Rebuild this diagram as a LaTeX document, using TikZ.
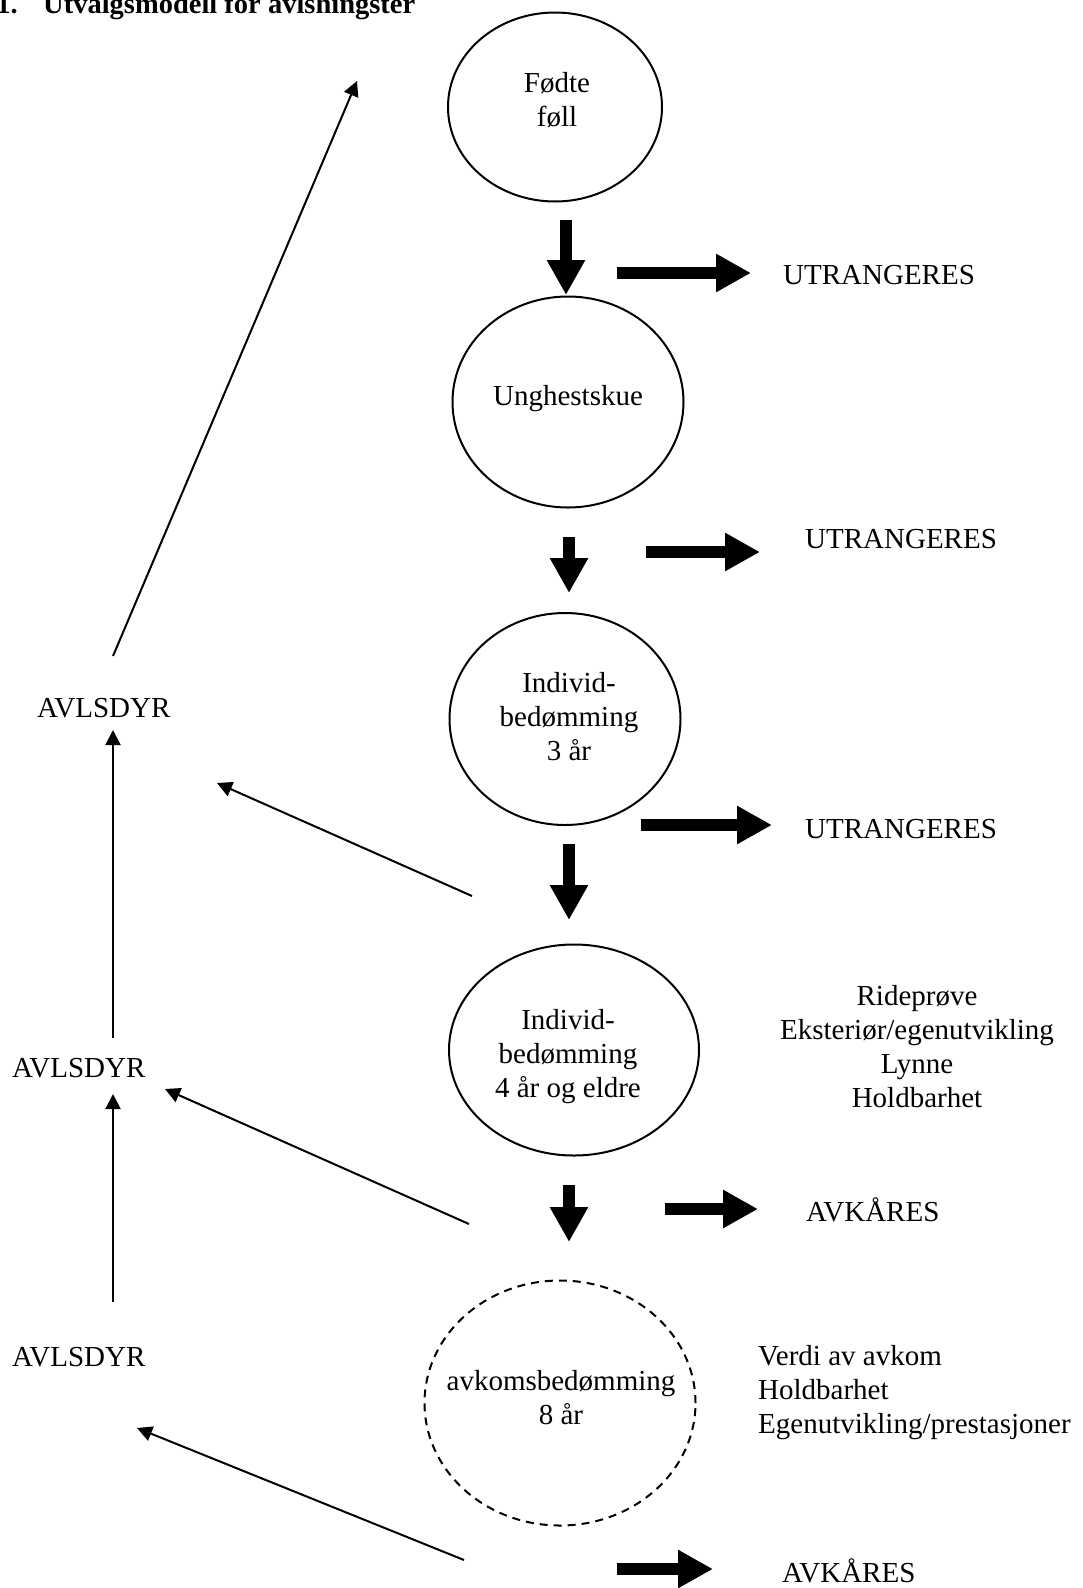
\documentclass[tikz,border=0pt]{standalone}
\usepackage{fontspec}
\setmainfont{Liberation Serif}
\usetikzlibrary{shapes.geometric,arrows.meta}
\tikzset{
  oval/.style={draw, ellipse, line width=2pt, inner sep=0pt},
  lbl/.style={font=\fontsize{29}{34}\selectfont, inner sep=0pt},
  blockarrow/.style={line width=12pt, -{Triangle[width=36pt,length=35pt]}},
  thinarrow/.style={line width=2pt, -{Triangle[width=15pt,length=15pt]}},
}
\begin{document}
\begin{tikzpicture}[x=1pt,y=-1pt]
\useasboundingbox (0,0) rectangle (1082,1588);
\clip (0,0) rectangle (1082,1588);
% title
\node[font=\fontsize{28.5}{34}\selectfont\bfseries, inner sep=0pt, anchor=base east] (t1) at (18,13) {1.};
\node[font=\fontsize{28.5}{34}\selectfont\bfseries, inner sep=0pt, anchor=base west] (t2) at (43,13) {Utvalgsmodell for avlshingster};
% ellipses
\node[oval, minimum width=214pt, minimum height=189pt] (e1) at (555,107) {};
\node[oval, minimum width=231pt, minimum height=211pt] (e2) at (568,402) {};
\node[oval, minimum width=231pt, minimum height=212pt] (e3) at (565,719) {};
\node[oval, minimum width=250pt, minimum height=211pt] (e4) at (574,1050) {};
\node[oval, dashed, dash pattern=on 8pt off 6pt, minimum width=271pt, minimum height=245pt] (e5) at (560,1403) {};
% ellipse texts
\node[lbl, align=center, anchor=north] (e1t) at (557,72) {Fødte\\føll};
\node[lbl, anchor=base] (e2t) at (568,405) {Unghestskue};
\node[lbl, align=center, anchor=north] (e3t) at (569,672) {Individ-\\bedømming\\3 år};
\node[lbl, align=center, anchor=north] (e4t) at (568,1009) {Individ-\\bedømming\\4 år og eldre};
\node[lbl, align=center, anchor=north] (e5t) at (561,1370) {avkomsbedømming\\8 år};
% side labels
\node[lbl, anchor=base west] (u1) at (783,284) {UTRANGERES};
\node[lbl, anchor=base west] (u2) at (805,548) {UTRANGERES};
\node[lbl, anchor=base west] (u3) at (805,838) {UTRANGERES};
\node[lbl, anchor=base west] (k1) at (806,1221) {AVKÅRES};
\node[lbl, anchor=base west] (k2) at (782,1582) {AVKÅRES};
\node[lbl, anchor=base west] (av1) at (37,717) {AVLSDYR};
\node[lbl, anchor=base west] (av2) at (12,1077) {AVLSDYR};
\node[lbl, anchor=base west] (av3) at (12,1366) {AVLSDYR};
\node[lbl, align=center, anchor=north] (crit1) at (917,985) {Rideprøve\\Eksteriør/egenutvikling\\Lynne\\Holdbarhet};
\node[lbl, align=left, anchor=north west] (crit2) at (758,1345) {Verdi av avkom\\Holdbarhet\\Egenutvikling/prestasjoner};
% block arrow endpoints
\coordinate (d1a) at (566,220); \coordinate (d1b) at (566,295);
\coordinate (d2a) at (569,537); \coordinate (d2b) at (569,593);
\coordinate (d3a) at (569,844); \coordinate (d3b) at (569,920);
\coordinate (d4a) at (569,1185); \coordinate (d4b) at (569,1242);
\coordinate (r1a) at (617,273); \coordinate (r1b) at (751,273);
\coordinate (r2a) at (646,552); \coordinate (r2b) at (760,552);
\coordinate (r3a) at (641,825); \coordinate (r3b) at (772,825);
\coordinate (r4a) at (665,1209); \coordinate (r4b) at (758,1209);
\coordinate (r5a) at (617,1569); \coordinate (r5b) at (713,1569);
\foreach \a in {d1,d2,d3,d4,r1,r2,r3,r4,r5} \draw[blockarrow] (\a a) -- (\a b);
% thin arrow endpoints
\coordinate (a1a) at (113,656); \coordinate (a1b) at (357,81);
\coordinate (a2a) at (113,1038); \coordinate (a2b) at (113,730);
\coordinate (a3a) at (113,1302); \coordinate (a3b) at (113,1094);
\coordinate (a4a) at (472,896); \coordinate (a4b) at (217,783);
\coordinate (a5a) at (469,1224); \coordinate (a5b) at (165,1089);
\coordinate (a6a) at (464,1560); \coordinate (a6b) at (137,1428);
\foreach \a in {a1,a2,a3,a4,a5,a6} \draw[thinarrow] (\a a) -- (\a b);
\end{tikzpicture}
\end{document}
